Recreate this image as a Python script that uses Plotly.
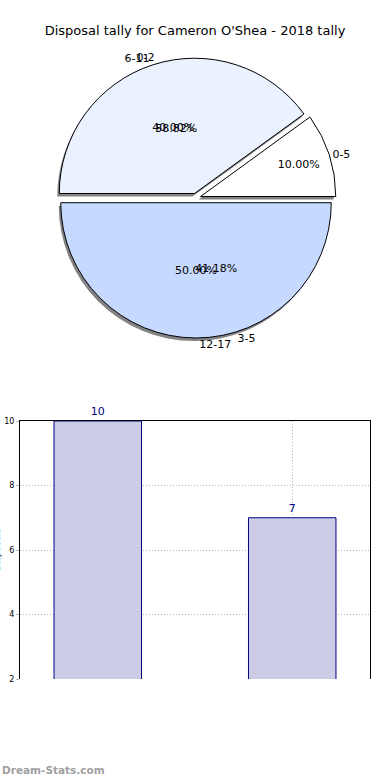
import plotly.graph_objects as go

# ---- data ----
title_text = "Disposal tally for Cameron O'Shea - 2018 tally"
pie_a_labels = ["0-5", "6-11", "12-17"]
pie_a_values = [1, 4, 5]
pie_b_labels = ["0-2", "3-5"]
pie_b_values = [10, 7]
bar_categories = ["0-2", "3-5"]
bar_values = [10, 7]
y_ticks = [2, 4, 6, 8, 10]
y_title = "Disposals"
watermark = "Dream-Stats.com"

pie_a_colors = ["#ffffff", "#eaf1ff", "#c6d9ff"]
FONT = "DejaVu Sans"

W, H = 390, 780
ML, MR = 20, 20
PW = W - ML - MR

def px_y(top, bottom):
    return [1 - bottom / H, 1 - top / H]

def px_x(left, right):
    return [(left - ML) / PW, (right - ML) / PW]

pie_dom_y = px_y(58, 338)
pie_dom_x = px_x(ML + 2, W - MR)
shadow_dom_y = px_y(61, 341)
shadow_dom_x = px_x(ML, W - MR - 2)

# counter-clockwise from 3 o'clock == clockwise from 3 o'clock with reversed order
common = dict(sort=False, direction="clockwise", rotation=90, hoverinfo="skip")
pull_a = 0.035

a_lab = pie_a_labels[::-1]
a_val = pie_a_values[::-1]
a_col = pie_a_colors[::-1]
b_lab = pie_b_labels[::-1]
b_val = pie_b_values[::-1]

fig = go.Figure()

# shadow
fig.add_trace(go.Pie(labels=a_lab, values=a_val, pull=pull_a,
                     domain=dict(x=shadow_dom_x, y=shadow_dom_y),
                     marker=dict(colors=["rgba(90,90,90,0.75)"] * 3, line=dict(width=0)),
                     textinfo="none", showlegend=False, **common))
# pie A fill + percents
fig.add_trace(go.Pie(labels=a_lab, values=a_val, pull=pull_a,
                     domain=dict(x=pie_dom_x, y=pie_dom_y),
                     marker=dict(colors=a_col, line=dict(color="#000000", width=1)),
                     texttemplate="%{percent:.2%}", textposition="inside",
                     insidetextorientation="horizontal",
                     insidetextfont=dict(family=FONT, size=11, color="#000000"),
                     showlegend=False, **common))
# pie A labels outside
fig.add_trace(go.Pie(labels=a_lab, values=a_val, pull=pull_a,
                     domain=dict(x=pie_dom_x, y=pie_dom_y),
                     marker=dict(colors=["rgba(0,0,0,0)"] * 3, line=dict(width=0)),
                     textinfo="label", textposition="outside",
                     outsidetextfont=dict(family=FONT, size=11, color="#000000"),
                     showlegend=False, **common))
# pie B (hidden slices) percents
fig.add_trace(go.Pie(labels=b_lab, values=b_val, pull=pull_a,
                     domain=dict(x=pie_dom_x, y=pie_dom_y),
                     marker=dict(colors=["rgba(0,0,0,0)"] * 2, line=dict(width=0)),
                     texttemplate="%{percent:.2%}", textposition="inside",
                     insidetextorientation="horizontal",
                     insidetextfont=dict(family=FONT, size=11, color="#000000"),
                     showlegend=False, **common))
# pie B labels outside
fig.add_trace(go.Pie(labels=b_lab, values=b_val, pull=pull_a,
                     domain=dict(x=pie_dom_x, y=pie_dom_y),
                     marker=dict(colors=["rgba(0,0,0,0)"] * 2, line=dict(width=0)),
                     textinfo="label", textposition="outside",
                     outsidetextfont=dict(family=FONT, size=11, color="#000000"),
                     showlegend=False, **common))

# bar chart
fig.add_trace(go.Bar(x=bar_categories, y=bar_values, width=0.45,
                     marker=dict(color="#ccccE6", line=dict(color="#000080", width=1)),
                     text=[str(v) for v in bar_values], textposition="outside",
                     textfont=dict(family=FONT, size=11, color="#000080"),
                     cliponaxis=False, showlegend=False, hoverinfo="skip"))

grid = dict(showgrid=True, gridcolor="#b4b4b4", griddash="1px,2px", gridwidth=1)

fig.update_layout(
    width=W, height=H,
    margin=dict(l=ML, r=MR, t=0, b=0, autoexpand=False),
    paper_bgcolor="#ffffff", plot_bgcolor="#ffffff",
    font=dict(family=FONT, size=11, color="#000000"),
    title=dict(text=title_text, xref="container", x=0.5, xanchor="center",
               yref="container", y=1 - 30 / H, yanchor="middle",
               font=dict(family=FONT, size=13, color="#000000")),
    xaxis=dict(domain=[0, 1], range=[-0.4, 1.4], side="top", showline=True,
               linecolor="#000000", linewidth=1, showticklabels=False, ticks="",
               zeroline=False, fixedrange=True, automargin=False, **grid),
    yaxis=dict(domain=px_y(421, 679), range=[2, 10], tickvals=y_ticks,
               showline=True, mirror=True, linecolor="#000000", linewidth=1,
               ticks="outside", ticklen=3, tickcolor="#b4b4b4",
               tickfont=dict(family=FONT, size=8, color="#000000"),
               zeroline=False, automargin=False, fixedrange=True, **grid),
    annotations=[
        dict(text=f"<b>{watermark}</b>", xref="paper", yref="paper",
             x=0, xshift=-ML, y=1 - 770 / H, xanchor="left", yanchor="middle",
             showarrow=False, font=dict(family=FONT, size=10.5, color="#a0a0a0")),
        dict(text=y_title, xref="paper", yref="paper", textangle=-90,
             x=0, xshift=-ML - 3, y=sum(px_y(421, 679)) / 2, xanchor="center",
             yanchor="middle", showarrow=False,
             font=dict(family=FONT, size=9, color="#000000")),
    ],
)

fig.write_html("out.html", config={"displayModeBar": False},
               post_script="document.body.style.margin='0px';")
